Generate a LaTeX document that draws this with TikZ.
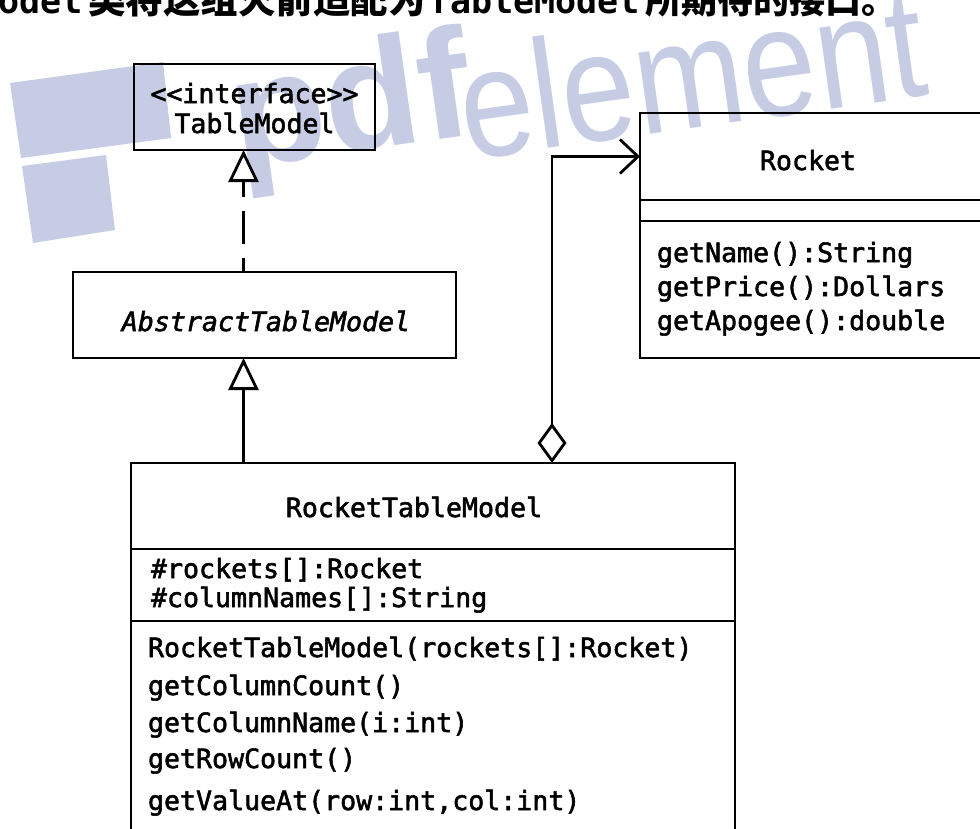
\documentclass[tikz,border=0pt]{standalone}
\usepackage{fontspec}
\setmonofont{DejaVu Sans Mono}
\newfontfamily\umlfont{DejaVu Sans Mono}[FakeBold=2]
\newfontfamily\cjk{Noto Sans CJK SC}
\newfontfamily\wmfont{Liberation Sans}
\usetikzlibrary{arrows.meta,calc}

\definecolor{wm}{RGB}{199,204,229}

\tikzset{
  box/.style={draw=black, line width=2.8pt, rectangle, inner sep=0pt, outer sep=0pt},
  lbl/.style={font=\fontsize{26.6}{26.6}\selectfont\umlfont, inner sep=0pt, outer sep=0pt, text=black},
  wmtext/.style={font=\fontsize{155}{155}\selectfont\wmfont, text=wm, inner sep=0pt, outer sep=0pt},
  conn/.style={line width=2.8pt, draw=black},
  realizes/.style={conn, dash pattern=on 33pt off 14pt, dash phase=19pt,
    -{Triangle[length=32pt, width=30pt, fill=white]}},
  extends/.style={conn, -{Triangle[length=32pt, width=30pt, fill=white]}},
  aggregates/.style={conn,
    {Diamond[length=40pt, width=29pt, fill=white]}-{Straight Barb[length=18pt, width=34pt]}},
}

\begin{document}
\begin{tikzpicture}[x=1pt,y=-1pt]
\useasboundingbox (0,0) rectangle (980,828);
\clip (0,0) rectangle (980,828);

% background mark
\fill[wm] (10,83) -- (163,62) -- (171,138) -- (21,158) -- cycle;
\fill[wm] (22,166) -- (106,155) -- (115,230) -- (33,243) -- cycle;
\node[wmtext, anchor=base west, rotate=8] (wmpdf) at (238,168) {\bfseries pdf};
\node[wmtext, anchor=base west, rotate=8] (wmelem) at (467,160) {\scalebox{0.85}[1]{element}};

% caption line
\node[anchor=base west, inner sep=0pt] (caption) at (-2,13)
  {{\fontsize{35}{35}\selectfont\ttfamily\bfseries odel}\hspace{6pt}%
   {\fontsize{37.5}{37.5}\selectfont\cjk\bfseries 类将这组火箭适配为}\hspace{3pt}%
   {\fontsize{35}{35}\selectfont\ttfamily\bfseries TableModel}\hspace{6pt}%
   {\fontsize{36}{36}\selectfont\cjk\bfseries 所期待的接口。}};

% TableModel interface
\node[box, minimum width=241pt, minimum height=86pt] (tm) at (254.5,107) {};
\node[lbl, anchor=base] (tmstereo) at (254.5,103) {<<interface>>};
\node[lbl, anchor=base] (tmname) at (254.5,133) {TableModel};

% AbstractTableModel
\node[box, minimum width=383pt, minimum height=86pt] (atm) at (264.5,315) {};
\node[lbl, anchor=base, font=\fontsize{26.6}{26.6}\selectfont\umlfont\itshape] (atmname) at (266,331) {AbstractTableModel};

% RocketTableModel
\node[box, minimum width=604pt, minimum height=86pt] (rtmhead) at (433,506) {};
\node[box, minimum width=604pt, minimum height=72pt] (rtmattr) at (433,585) {};
\node[box, minimum width=604pt, minimum height=279pt] (rtmops) at (433,760.5) {};
\node[lbl, anchor=base] (rtmname) at (414,517) {RocketTableModel};
\node[lbl, anchor=base west] (rtma1) at (151,578) {\#rockets[]:Rocket};
\node[lbl, anchor=base west] (rtma2) at (151,607) {\#columnNames[]:String};
\node[lbl, anchor=base west] (rtmo1) at (148,657) {RocketTableModel(rockets[]:Rocket)};
\node[lbl, anchor=base west] (rtmo2) at (148,695) {getColumnCount()};
\node[lbl, anchor=base west] (rtmo3) at (148,732) {getColumnName(i:int)};
\node[lbl, anchor=base west] (rtmo4) at (148,768) {getRowCount()};
\node[lbl, anchor=base west] (rtmo5) at (148,810) {getValueAt(row:int,col:int)};

% Rocket
\node[box, minimum width=370pt, minimum height=87pt] (rhead) at (825,156.5) {};
\node[box, minimum width=370pt, minimum height=21pt] (rattr) at (825,210.5) {};
\node[box, minimum width=370pt, minimum height=137pt] (rops) at (825,289.5) {};
\node[lbl, anchor=base] (rname) at (808,170) {Rocket};
\node[lbl, anchor=base west] (ro1) at (657,262) {getName():String};
\node[lbl, anchor=base west] (ro2) at (657,296) {getPrice():Dollars};
\node[lbl, anchor=base west] (ro3) at (657,330) {getApogee():double};

% connectors
\coordinate (axis) at (243.5,0);
\coordinate (aggx) at (552,0);
\draw[realizes] (atm.north -| axis) -- (tm.south -| axis);
\draw[extends] (rtmhead.north -| axis) -- (atm.south -| axis);
\draw[aggregates] (rtmhead.north -| aggx) |- (rhead.west);
\end{tikzpicture}
\end{document}
